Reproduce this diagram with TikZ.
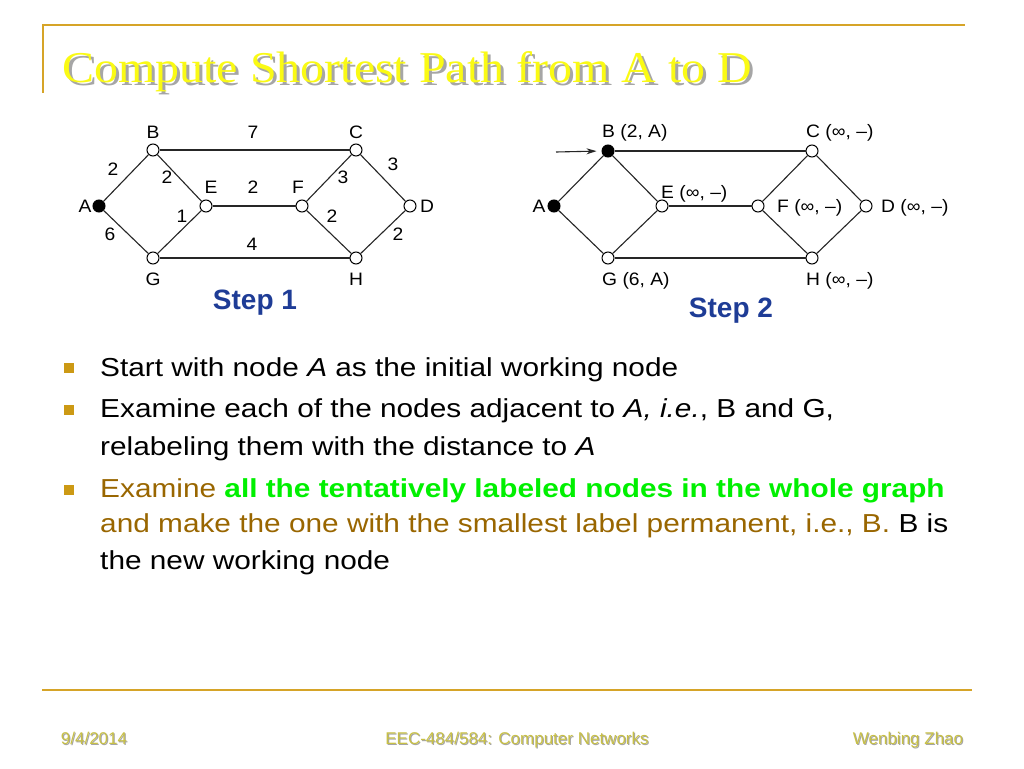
\documentclass[tikz,border=0pt]{standalone}
\usepackage{fontspec}
\setmainfont{Liberation Sans}
\newfontfamily\titlefont{Liberation Serif}
\usetikzlibrary{arrows.meta}
\definecolor{framegold}{RGB}{214,164,40}
\definecolor{bulletgold}{RGB}{204,153,20}
\definecolor{textbrown}{RGB}{153,102,0}
\definecolor{textgreen}{RGB}{0,240,0}
\definecolor{stepblue}{RGB}{30,60,150}
\definecolor{footolive}{RGB}{200,192,70}
\definecolor{titleyellow}{RGB}{250,250,20}
\tikzset{
  vtx/.style={circle, draw, fill=white, inner sep=0pt, minimum size=12pt, line width=1pt},
  work/.style={vtx, fill=black},
  edge/.style={line width=1.1pt, draw=black!85},
  lbl/.style={font=\fontsize{18}{18}\selectfont, inner sep=0pt, xscale=1.07},
  steplbl/.style={font=\fontsize{28}{28}\selectfont\bfseries, text=stepblue, inner sep=0pt, anchor=base},
  body/.style={font=\fontsize{26}{26}\selectfont, inner sep=0pt, anchor=base west, xscale=1.146},
  bullet/.style={fill=bulletgold, minimum size=10pt, inner sep=0pt},
  foot/.style={font=\fontsize{17}{17}\selectfont, inner sep=0pt, anchor=base},
  ttl/.style={anchor=base west, inner sep=0pt, xscale=1.09, font=\titlefont\fontsize{44}{44}\selectfont}
}
\begin{document}
\begin{tikzpicture}[x=1pt, y=-1pt, >=Stealth]
  \useasboundingbox (0,0) rectangle (1024,768);
  \fill[white] (0,0) rectangle (1024,768);
  % slide frame
  \draw[framegold, line width=2pt] (42,25) -- (965,25);
  \draw[framegold, line width=2pt] (43,25) -- (43,93);
  \draw[framegold, line width=2pt] (42,690) -- (972,690);
  % title with shadow
  \node[ttl, text=black!35] (tshadow) at (65,85) {Compute Shortest Path from A to D};
  \node[ttl, text=titleyellow] (title) at (62,82) {Compute Shortest Path from A to D};

  % step 1 graph
  \node[work] (a1) at (99,206) {};
  \node[vtx] (b1) at (153,150) {};
  \node[vtx] (c1) at (356,150) {};
  \node[vtx] (d1) at (410,206) {};
  \node[vtx] (e1) at (206,206) {};
  \node[vtx] (f1) at (302,206) {};
  \node[vtx] (g1) at (153,258) {};
  \node[vtx] (h1) at (356,258) {};
  \draw[edge] (a1) -- (b1);
  \draw[edge] (a1) -- (g1);
  \draw[edge] (b1) -- (c1);
  \draw[edge] (b1) -- (e1);
  \draw[edge] (g1) -- (e1);
  \draw[edge] (g1) -- (h1);
  \draw[edge] (e1) -- (f1);
  \draw[edge] (f1) -- (c1);
  \draw[edge] (f1) -- (h1);
  \draw[edge] (c1) -- (d1);
  \draw[edge] (h1) -- (d1);
  \node[lbl, anchor=base] (la1) at (85,212) {A};
  \node[lbl, anchor=base] (lb1) at (153,138) {B};
  \node[lbl, anchor=base] (lc1) at (356,138) {C};
  \node[lbl, anchor=base] (ld1) at (427,212) {D};
  \node[lbl, anchor=base] (le1) at (211,193) {E};
  \node[lbl, anchor=base] (lf1) at (298,193) {F};
  \node[lbl, anchor=base] (lg1) at (153,285) {G};
  \node[lbl, anchor=base] (lh1) at (356,285) {H};
  % weights
  \node[lbl, anchor=base] (wab) at (113,175) {2};
  \node[lbl, anchor=base] (wbe) at (167,183) {2};
  \node[lbl, anchor=base] (wbc) at (253,138) {7};
  \node[lbl, anchor=base] (wef) at (253,193) {2};
  \node[lbl, anchor=base] (wcd) at (393,170) {3};
  \node[lbl, anchor=base] (wfc) at (343,183) {3};
  \node[lbl, anchor=base] (wge) at (182,222) {1};
  \node[lbl, anchor=base] (wfh) at (332,222) {2};
  \node[lbl, anchor=base] (wag) at (110,240) {6};
  \node[lbl, anchor=base] (wgh) at (252,250) {4};
  \node[lbl, anchor=base] (whd) at (398,240) {2};
  \node[steplbl] (step1) at (255,309) {Step 1};

  % step 2 graph
  \node[work] (a2) at (554,206) {};
  \node[work] (b2) at (608,151) {};
  \node[vtx] (c2) at (812,151) {};
  \node[vtx] (d2) at (866,206) {};
  \node[vtx] (e2) at (662,206) {};
  \node[vtx] (f2) at (758,206) {};
  \node[vtx] (g2) at (608,258) {};
  \node[vtx] (h2) at (812,258) {};
  \draw[edge] (a2) -- (b2);
  \draw[edge] (a2) -- (g2);
  \draw[edge] (b2) -- (c2);
  \draw[edge] (b2) -- (e2);
  \draw[edge] (g2) -- (e2);
  \draw[edge] (g2) -- (h2);
  \draw[edge] (e2) -- (f2);
  \draw[edge] (f2) -- (c2);
  \draw[edge] (f2) -- (h2);
  \draw[edge] (c2) -- (d2);
  \draw[edge] (h2) -- (d2);
  \coordinate (arrstart) at (556,152);
  \draw[edge, -{Stealth[length=10pt, width=6pt]}, shorten >=5pt] (arrstart) -- (b2.west);
  \node[lbl, anchor=base] (la2) at (539,212) {A};
  \node[lbl, anchor=base west] (lb2) at (602,137) {B (2, A)};
  \node[lbl, anchor=base west] (lc2) at (806,137) {C (∞, –)};
  \node[lbl, anchor=base west] (le2) at (661,198) {E (∞, –)};
  \node[lbl, anchor=base west] (lf2) at (777,212) {F (∞, –)};
  \node[lbl, anchor=base west] (ld2) at (881,212) {D (∞, –)};
  \node[lbl, anchor=base west] (lg2) at (602,285) {G (6, A)};
  \node[lbl, anchor=base west] (lh2) at (806,285) {H (∞, –)};
  \node[steplbl] (step2) at (731,317) {Step 2};

  % bullets
  \node[bullet] (bul1) at (69,368) {};
  \node[bullet] (bul2) at (69,410) {};
  \node[bullet] (bul3) at (69,490) {};
  \node[body] (line1) at (100,376) {Start with node \textit{A} as the initial working node};
  \node[body] (line2) at (100,417) {Examine each of the nodes adjacent to \textit{A, i.e.}, B and G,};
  \node[body] (line3) at (100,455) {relabeling them with the distance to \textit{A}};
  \node[body, text=textbrown] (line4) at (100,497) {Examine \textcolor{textgreen}{\bfseries all the tentatively labeled nodes in the whole graph}};
  \node[body, text=textbrown] (line5) at (100,532) {and make the one with the smallest label permanent, i.e., B. \textcolor{black}{B is}};
  \node[body] (line6) at (100,569) {the new working node};

  % footer
  \node[foot, text=black!35] (fdates) at (95,745) {9/4/2014};
  \node[foot, text=footolive] (fdate) at (94,744) {9/4/2014};
  \node[foot, text=black!35] (fcourses) at (518,745) {EEC-484/584: Computer Networks};
  \node[foot, text=footolive] (fcourse) at (517,744) {EEC-484/584: Computer Networks};
  \node[foot, text=black!35] (fnames) at (909,745) {Wenbing Zhao};
  \node[foot, text=footolive] (fname) at (908,744) {Wenbing Zhao};
\end{tikzpicture}
\end{document}
